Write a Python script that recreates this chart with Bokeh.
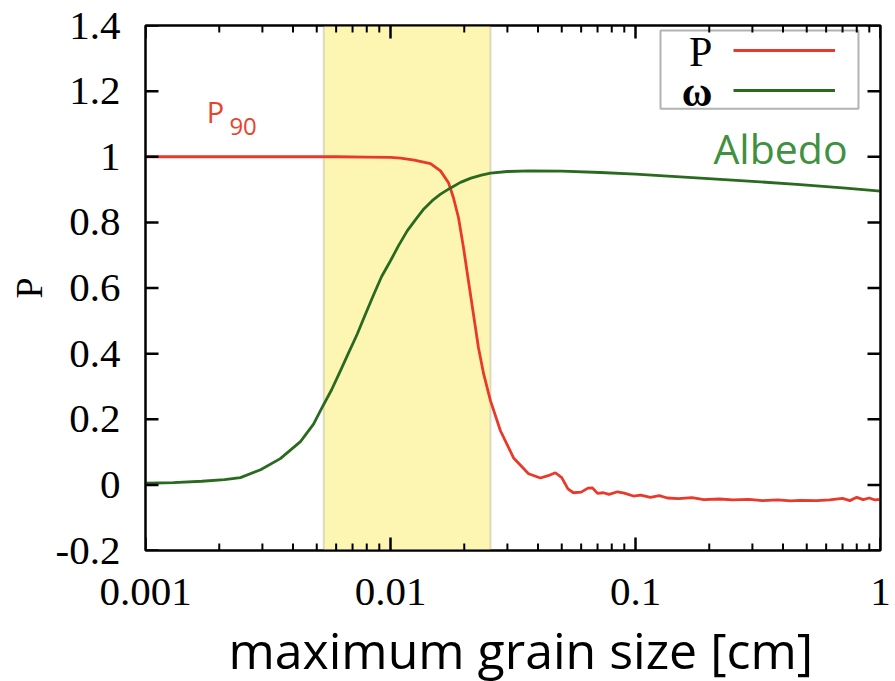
import math
from bokeh.plotting import figure
from bokeh.layouts import column
from bokeh.models import (LogAxis, LinearAxis, FixedTicker, BoxAnnotation, Label,
                          Legend, LegendItem, CustomJSTickFormatter, Range1d)
from bokeh.embed import file_html
from bokeh.resources import INLINE

# ---------------- data ----------------
grain_P = [0.001, 0.003, 0.006, 0.008, 0.01, 0.011, 0.0125, 0.01456, 0.016, 0.01725,
           0.01807, 0.01895, 0.01986, 0.0208, 0.0218, 0.02286, 0.024, 0.0256, 0.0281,
           0.0318, 0.0366, 0.0409, 0.044, 0.0471, 0.05, 0.053, 0.0558,
           0.06, 0.064, 0.0667, 0.07, 0.074, 0.078, 0.0845, 0.09, 0.098, 0.105, 0.115,
           0.125, 0.135, 0.15, 0.17, 0.19, 0.22, 0.25, 0.29, 0.33, 0.38, 0.43, 0.47,
           0.55, 0.62, 0.70, 0.75, 0.80, 0.85, 0.90, 0.95, 1.0]
P_vals = [1.0, 1.0, 1.0, 0.999, 0.998, 0.996, 0.99, 0.979, 0.957, 0.921,
          0.875, 0.814, 0.723, 0.622, 0.521, 0.418, 0.338, 0.256, 0.165,
          0.082, 0.034, 0.021, 0.028, 0.037, 0.022, -0.012, -0.024,
          -0.022, -0.010, -0.009, -0.026, -0.024, -0.029, -0.021, -0.025, -0.034, -0.031, -0.038,
          -0.033, -0.040, -0.042, -0.039, -0.045, -0.043, -0.046, -0.044, -0.048, -0.046, -0.049, -0.047,
          -0.048, -0.046, -0.041, -0.048, -0.038, -0.045, -0.040, -0.046, -0.044]

grain_w = [0.001, 0.0013, 0.0017, 0.0021, 0.00244, 0.00295, 0.00355, 0.00429, 0.00485,
           0.00526, 0.00575, 0.00625, 0.00675, 0.00731, 0.0079, 0.00855, 0.0092, 0.01,
           0.0108, 0.0117, 0.0127, 0.01368, 0.0148, 0.016, 0.0176, 0.0193, 0.0213,
           0.0235, 0.0256, 0.03, 0.037, 0.05, 0.072, 0.1, 0.184, 0.3, 0.471, 0.7, 1.0]
w_vals = [0.005, 0.007, 0.011, 0.016, 0.022, 0.046, 0.08, 0.132, 0.185,
          0.236, 0.29, 0.348, 0.403, 0.459, 0.52, 0.581, 0.635, 0.683,
          0.73, 0.774, 0.81, 0.841, 0.866, 0.886, 0.905, 0.922, 0.935,
          0.944, 0.95, 0.955, 0.957, 0.956, 0.952, 0.947, 0.935, 0.925, 0.915, 0.905, 0.895]

band = [0.00534, 0.0256]
x_major = [0.001, 0.01, 0.1, 1]
x_minor = [m * 10.0 ** e for e in (-3, -2, -1) for m in range(2, 10)]
y_major = [-0.2, 0, 0.2, 0.4, 0.6, 0.8, 1.0, 1.2, 1.4]
x_lo, x_hi, y_lo, y_hi = 0.001, 1, -0.2, 1.4
x_title = "maximum grain size [cm]"
y_title = "P"

RED = "#e8392a"
GREEN = "#2a6a1f"
TICK = "black"
SERIF = "Liberation Serif"
SANS = "Open Sans"

W = 895
H_MAIN = 632
H_TITLE = 49

p = figure(width=W, height=H_MAIN, x_axis_type="log", output_backend="svg",
           toolbar_location=None, min_border_left=145, min_border_top=25,
           min_border_right=15, min_border_bottom=82,
           x_range=Range1d(x_lo, x_hi), y_range=Range1d(y_lo, y_hi))
p.background_fill_color = "white"
p.border_fill_color = "white"
p.grid.visible = False
p.outline_line_color = "black"
p.outline_line_width = 2

# band
p.add_layout(BoxAnnotation(left=band[0], right=band[1], fill_color="#fdf6b3", fill_alpha=1,
                           line_color="#8f8f80", line_width=2, level="underlay"))

rP = p.line(grain_P, P_vals, line_color=RED, line_width=2.8)
rw = p.line(grain_w, w_vals, line_color=GREEN, line_width=2.8)

# inward ticks (gnuplot style) drawn as rays from the tick lists
p.ray(x=x_major, y=[y_lo] * len(x_major), length=13, length_units="screen", angle=math.pi / 2,
      line_color=TICK, line_width=2.5)
p.ray(x=x_major, y=[y_hi] * len(x_major), length=13, length_units="screen", angle=-math.pi / 2,
      line_color=TICK, line_width=2.5)
p.ray(x=x_minor, y=[y_lo] * len(x_minor), length=7, length_units="screen", angle=math.pi / 2,
      line_color=TICK, line_width=2)
p.ray(x=x_minor, y=[y_hi] * len(x_minor), length=7, length_units="screen", angle=-math.pi / 2,
      line_color=TICK, line_width=2)
p.ray(x=[x_lo] * len(y_major), y=y_major, length=13, length_units="screen", angle=0,
      line_color=TICK, line_width=2.5)
p.ray(x=[x_hi] * len(y_major), y=y_major, length=13, length_units="screen", angle=math.pi,
      line_color=TICK, line_width=2.5)

# axes
xt = FixedTicker(ticks=x_major, minor_ticks=x_minor)
yt = FixedTicker(ticks=y_major)
xfmt = CustomJSTickFormatter(code="return tick.toString();")
yfmt = CustomJSTickFormatter(code="var s = tick.toFixed(1); if (s === '-0.0') s='0.0'; return s.replace(/\\.0$/, '');")

def style(ax, labels=True):
    ax.axis_line_color = "black"
    ax.axis_line_width = 2
    ax.major_tick_in = 0
    ax.major_tick_out = 0
    ax.minor_tick_in = 0
    ax.minor_tick_out = 0
    ax.major_tick_line_color = None
    ax.minor_tick_line_color = None
    ax.major_label_text_font = SERIF
    ax.major_label_text_font_size = "41px"
    ax.major_label_text_color = "black" if labels else None

xa = p.xaxis[0]
xa.ticker = xt
xa.formatter = xfmt
style(xa)
xa.major_label_standoff = 28

ya = p.yaxis[0]
ya.ticker = yt
ya.formatter = yfmt
style(ya)
ya.major_label_standoff = 25
ya.axis_label = y_title
ya.axis_label_text_font = SERIF
ya.axis_label_text_font_size = "38px"
ya.axis_label_text_font_style = "normal"
ya.axis_label_text_color = "black"
ya.axis_label_standoff = 3

top = LogAxis(ticker=xt, formatter=xfmt)
style(top, labels=False)
top.major_label_text_font_size = "1px"
p.add_layout(top, "above")
right = LinearAxis(ticker=yt, formatter=yfmt)
style(right, labels=False)
right.major_label_text_font_size = "1px"
p.add_layout(right, "right")
p.min_border_top = 25
p.min_border_right = 15

# legend (glyphs via Bokeh legend, box and keys drawn as annotations)
legend = Legend(items=[LegendItem(label=" ", renderers=[rP]), LegendItem(label=" ", renderers=[rw])],
                location="top_right", margin=5, padding=10, spacing=20,
                glyph_width=102, glyph_height=20, label_width=30, label_height=20,
                label_standoff=0, border_line_alpha=0, background_fill_alpha=0,
                label_text_font_size="1px")
p.add_layout(legend)
p.add_layout(BoxAnnotation(left=0.1265, right=0.813, top=1.385, bottom=1.146,
                           fill_alpha=0, line_color="black", line_width=2))
p.add_layout(Label(x=0.206, y=1.320, text="P", text_align="right", text_baseline="alphabetic",
                   text_font=SERIF, text_font_size="42px", text_color="black"))
p.add_layout(Label(x=0.206, y=1.198, text="ω", text_align="right", text_baseline="alphabetic",
                   text_font=SERIF, text_font_size="42px", text_font_style="bold", text_color="black"))

# annotations
p.add_layout(Label(x=0.00178, y=1.137, text="P", text_baseline="alphabetic",
                   text_font=SANS, text_font_size="29px", text_color="#e8432e"))
p.add_layout(Label(x=0.00220, y=1.091, text="90", text_baseline="alphabetic",
                   text_font=SANS, text_font_size="24px", text_color="#e8432e"))
p.add_layout(Label(x=0.208, y=1.028, text="Albedo", text_baseline="alphabetic",
                   text_font=SANS, text_font_size="41px", text_color="#3f9140"))

# x-axis title strip (its own small figure so the main frame keeps its full height)
t = figure(width=W, height=H_TITLE, output_backend="svg", toolbar_location=None,
           x_range=Range1d(0, W), y_range=Range1d(0, H_TITLE),
           x_axis_location=None, y_axis_location=None, min_border=0)
t.grid.visible = False
t.outline_line_color = None
t.background_fill_color = "white"
t.border_fill_color = "white"
t.add_layout(Label(x=457, y=32, text=x_title, text_align="center", text_baseline="alphabetic",
                   text_font=SANS, text_font_size="50px", text_color="black"))

layout = column(p, t, spacing=0)
open("out.html", "w").write(file_html(layout, INLINE))
